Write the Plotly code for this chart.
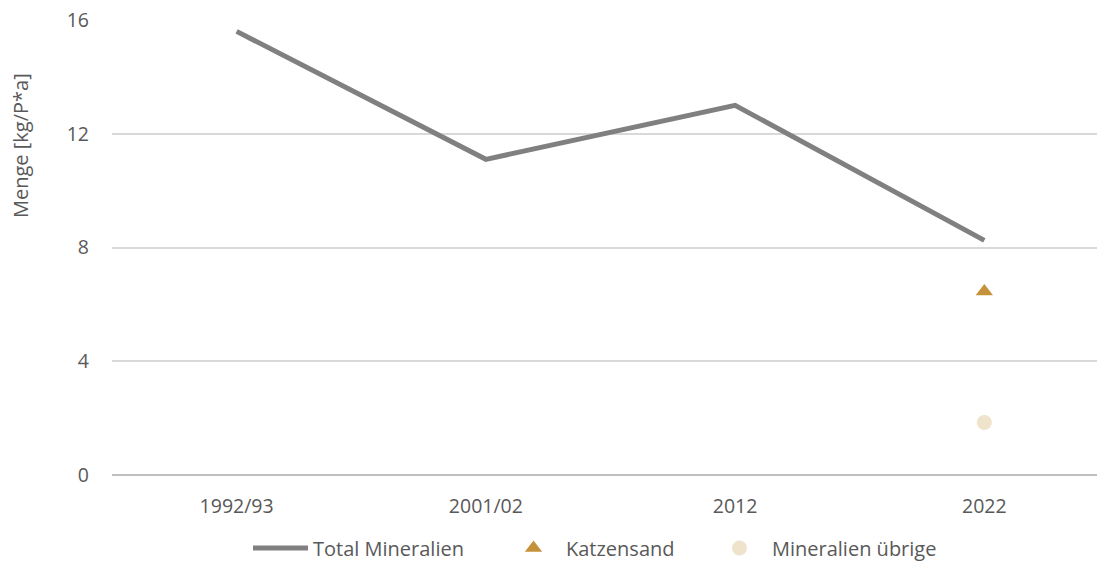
import plotly.graph_objects as go

# Categories and values (kg per person and year)
periods = ["1992/93", "2001/02", "2012", "2022"]
total_mineralien = [15.6, 11.1, 13.0, 8.25]
katzensand = [None, None, None, 6.45]
mineralien_uebrige = [None, None, None, 1.85]
y_ticks = [0, 4, 8, 12, 16]

x_pos = list(range(len(periods)))

TEXT = "#595959"
FONT = "Open Sans"
SIZE = 19.5
LEGEND_SIZE = 20

# plot area in pixels
L, R, T, B = 112, 0, 20, 89
W, H = 1097, 564
plot_w = W - L - R
plot_h = H - T - B


def px_x(px):
    return (px - L) / plot_w


def px_y(px):
    return (H - B - px) / plot_h


fig = go.Figure()
fig.add_trace(go.Scatter(
    x=x_pos, y=total_mineralien, name="Total Mineralien",
    mode="lines", line=dict(color="#808080", width=5), legend="legend",
))
fig.add_trace(go.Scatter(
    x=x_pos, y=katzensand, name="Katzensand",
    mode="markers", marker=dict(symbol="triangle-up", size=15, color="#C5923A"),
    legend="legend2",
))
fig.add_trace(go.Scatter(
    x=x_pos, y=mineralien_uebrige, name="Mineralien übrige",
    mode="markers", marker=dict(symbol="circle", size=15, color="#EFE3CC"),
    legend="legend3",
))

legend_common = dict(
    orientation="h", xanchor="left", yanchor="middle", y=px_y(548),
    itemwidth=55, font=dict(family=FONT, size=LEGEND_SIZE, color=TEXT),
    bgcolor="rgba(0,0,0,0)", borderwidth=0,
)

fig.update_layout(
    width=W, height=H,
    margin=dict(l=L, r=R, t=T, b=B, autoexpand=False),
    paper_bgcolor="white", plot_bgcolor="white",
    font=dict(family=FONT, size=SIZE, color=TEXT),
    showlegend=True,
    legend=dict(legend_common, x=px_x(248)),
    legend2=dict(legend_common, x=px_x(501)),
    legend3=dict(legend_common, x=px_x(707)),
    xaxis=dict(
        range=[-0.5, 3.452], tickmode="array", tickvals=x_pos, ticktext=periods,
        showgrid=False, zeroline=False, showline=False, ticks="",
        ticklabelstandoff=17,
        tickfont=dict(family=FONT, size=SIZE, color=TEXT),
    ),
    yaxis=dict(
        range=[0, 16], tickmode="array", tickvals=y_ticks,
        showgrid=True, gridcolor="#D9D9D9", gridwidth=1.5,
        zeroline=True, zerolinecolor="#BFBFBF", zerolinewidth=2,
        showline=False, ticks="", ticklabelstandoff=22,
        tickfont=dict(family=FONT, size=SIZE, color=TEXT),
    ),
    annotations=[dict(
        text="Menge [kg/P*a]", textangle=-90, showarrow=False,
        xref="paper", yref="paper", x=px_x(20), y=px_y(146),
        xanchor="center", yanchor="middle",
        font=dict(family=FONT, size=20, color=TEXT),
    )],
)

fig.write_html("out.html")
